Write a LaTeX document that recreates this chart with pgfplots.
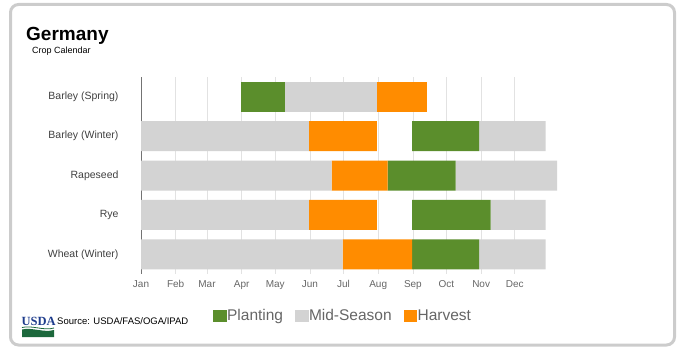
\documentclass[border=0pt]{standalone}
\usepackage{fontspec}
\setmainfont{Liberation Sans}
\newfontfamily\logofont{Liberation Serif}
\usepackage{pgfplots}
\pgfplotsset{compat=1.18}
\usepackage{pgfplotstable}
\definecolor{cgreen}{RGB}{91,142,44}
\definecolor{corange}{RGB}{255,140,0}
\definecolor{cgray}{RGB}{211,211,211}
\definecolor{cgrid}{RGB}{226,226,226}
\definecolor{cframe}{RGB}{204,204,204}
\definecolor{usdablue}{RGB}{30,60,140}
\definecolor{usdagreen}{RGB}{28,104,60}
\definecolor{ctext}{RGB}{64,64,64}
\definecolor{ctick}{RGB}{102,102,102}

% widths of successive segments (days); row 0 = Barley (Spring)
\pgfplotstableread{
row s1   s2    s3   s4   s5   s6   s7   s8   s9   s10  s11
0   89.4 0     39.3 0    82.5 0    0    44.6 0    0    0
1   0    150.1 0    60.8 0    31.5 0    0    59.8 0    59.5
2   0    170.4 0    50.1 0    0    60.7 0    0    90.6 0
3   0    150.1 0    60.8 0    31.5 0    0    70.1 0    49.2
4   0    180.2 0    62.0 0    0    60.0 0    0    59.5 0
}\crop

\begin{document}
\begin{tikzpicture}[x=1pt,y=1pt]
\useasboundingbox (0pt,0pt) rectangle (696pt,354pt);
\draw[cframe, line width=3pt, rounded corners=8pt] (10.5pt,9pt) rectangle (674.5pt,349.5pt);
\node[anchor=base west, font=\fontsize{19}{19}\selectfont\bfseries, inner sep=0] at (26pt,313.3pt) {Germany};
\node[anchor=base west, font=\fontsize{9}{9}\selectfont, inner sep=0] at (32pt,300.3pt) {Crop Calendar};
% USDA logo
\node[anchor=base west, font=\logofont\fontsize{12.5}{12.5}\selectfont\bfseries, text=usdablue, inner sep=0] at (21.5pt,28.5pt) {USDA};
\fill[usdagreen] (22pt,17pt) -- (54pt,17pt) -- (54pt,24pt) .. controls (44pt,21pt) and (32pt,27pt) .. (22pt,24.5pt) -- cycle;
\draw[usdagreen, line width=0.8pt] (22pt,26.5pt) .. controls (32pt,29pt) and (44pt,23pt) .. (54pt,26pt);
\node[anchor=base west, font=\fontsize{9.5}{9.5}\selectfont, inner sep=0] at (57pt,30pt) {Source: USDA/FAS/OGA/IPAD};
\begin{axis}[
  at={(350.8pt,178.5pt)}, anchor=center,
  scale only axis, width=419.6pt, height=197pt,
  xbar stacked, bar width=30pt,
  xmin=0, xmax=375, ymin=-0.5, ymax=4.5, y dir=reverse,
  ytick={0,1,2,3,4},
  yticklabels={Barley (Spring),Barley (Winter),Rapeseed,Rye,Wheat (Winter)},
  xtick={0,31,59,90,120,151,181,212,243,273,304,334},
  xticklabels={Jan,Feb,Mar,Apr,May,Jun,Jul,Aug,Sep,Oct,Nov,Dec},
  xmajorgrids, major grid style={cgrid, line width=0.8pt},
  axis x line*=bottom, x axis line style={draw=none},
  axis y line*=left, y axis line style={draw=gray!90!black, line width=0.8pt},
  major tick length=0pt,
  xticklabel style={font=\fontsize{10}{10}\selectfont, text=ctick, yshift=-3pt},
  yticklabel style={font=\fontsize{10.5}{10.5}\selectfont, text=ctext, xshift=-19pt},
  legend columns=-1,
  legend style={at={(0.1716,-0.2117)}, anchor=west, draw=none, fill=none,
    font=\fontsize{15.5}{15.5}\selectfont, text=ctick, inner sep=0pt,
    nodes={inner sep=1pt},
    /tikz/every even column/.append style={column sep=11pt}},
]
\addplot[forget plot, fill=none, draw=none] table[x=s1, y=row] {\crop};
\addplot[forget plot, fill=cgray, draw=none] table[x=s2, y=row] {\crop};
\addplot[forget plot, fill=cgreen, draw=none] table[x=s3, y=row] {\crop};
\addplot[forget plot, fill=corange, draw=none] table[x=s4, y=row] {\crop};
\addplot[forget plot, fill=cgray, draw=none] table[x=s5, y=row] {\crop};
\addplot[forget plot, fill=none, draw=none] table[x=s6, y=row] {\crop};
\addplot[forget plot, fill=cgreen, draw=none] table[x=s7, y=row] {\crop};
\addplot[forget plot, fill=corange, draw=none] table[x=s8, y=row] {\crop};
\addplot[forget plot, fill=cgreen, draw=none] table[x=s9, y=row] {\crop};
\addplot[forget plot, fill=cgray, draw=none] table[x=s10, y=row] {\crop};
\addplot[forget plot, fill=cgray, draw=none] table[x=s11, y=row] {\crop};
\addlegendimage{legend image code/.code={\fill[cgreen] (0pt,-5.5pt) rectangle (12.5pt,5.5pt);}}
\addlegendentry{Planting}
\addlegendimage{legend image code/.code={\fill[cgray] (0pt,-5.5pt) rectangle (12.5pt,5.5pt);}}
\addlegendentry{Mid-Season}
\addlegendimage{legend image code/.code={\fill[corange] (0pt,-5.5pt) rectangle (12.5pt,5.5pt);}}
\addlegendentry{Harvest}
\end{axis}
\end{tikzpicture}
\end{document}
